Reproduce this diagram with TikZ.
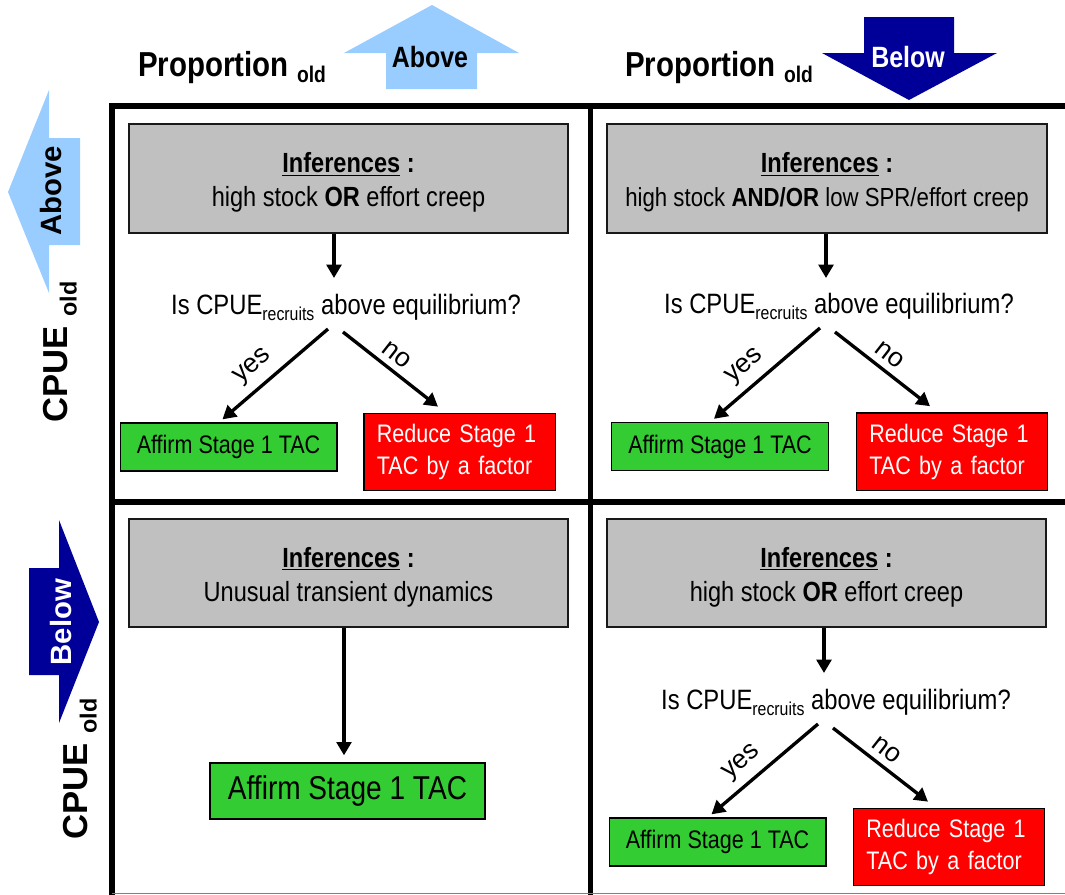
\documentclass[tikz,border=0pt]{standalone}
\usepackage{fontspec}
\setmainfont{Liberation Sans}[FakeStretch=0.85]
\newfontfamily\rotfont{Liberation Sans}
\usetikzlibrary{arrows.meta,calc}
\definecolor{lightblue}{HTML}{99CCFF}
\definecolor{darkblue}{HTML}{000099}
\definecolor{boxgray}{HTML}{C0C0C0}
\definecolor{boxgreen}{HTML}{33CC33}
\definecolor{boxred}{HTML}{FF0000}
\newcommand\myfs[2]{\fontsize{#1}{#2}\selectfont}
\newcommand\quest{Is CPUE\raisebox{-5pt}{\myfs{14}{14}recruits} above equilibrium?}
\newcommand\infhead{\rule{0pt}{21pt}\underline{\textbf{Inferences}} \textbf{:}}
\begin{document}
\begin{tikzpicture}[x=0.75pt,y=-0.75pt,
  gridline/.style={line width=4pt},
  infbox/.style={draw=black!90, line width=1.5pt, fill=boxgray, minimum width=329.25pt,
    minimum height=81.5pt, align=center, font=\myfs{20.8}{25.5}, inner sep=0pt},
  greenbox/.style={draw, line width=1pt, fill=boxgreen, minimum width=162.5pt,
    minimum height=36pt, font=\myfs{19}{24}, inner sep=0pt},
  redbox/.style={draw, line width=1pt, fill=boxred, text=white, text width=124pt,
    inner xsep=9.75pt, inner ysep=0pt, minimum height=58pt, align=left, font=\myfs{19}{24}},
  question/.style={font=\myfs{21}{25}, inner sep=0pt, anchor=base},
  conn/.style={line width=2.5pt, -{Triangle[length=10pt,width=11pt]}},
  lbl/.style={font=\rotfont\myfs{20}{24}, inner sep=0pt},
  header/.style={anchor=base west, font=\myfs{26}{30}\bfseries, inner sep=0pt},
  sidelabel/.style={rotate=90, font=\rotfont\myfs{26}{30}\bfseries, inner sep=0pt},
  arrowtext/.style={font=\myfs{22}{25}\bfseries, inner sep=0pt},
  sidearrowtext/.style={rotate=90, font=\rotfont\myfs{22}{25}\bfseries, inner sep=0pt}]
\useasboundingbox (0,0) rectangle (1065,894);

% ---------- grid ----------
\draw[gridline] (112,103) -- (112,895);
\draw[gridline] (110,106) -- (1067,106);
\draw[gridline] (590.5,106) -- (590.5,895);
\draw[gridline] (112,502) -- (1067,502);
\draw[gray, line width=0.75pt] (112,893.5) -- (1065,893.5);

% ---------- headers ----------
\node[header] (hp1) at (138,76) {Proportion \raisebox{-5pt}{\myfs{17}{17}\bfseries old}};
\node[header] (hp2) at (625,76) {Proportion \raisebox{-5pt}{\myfs{17}{17}\bfseries old}};

\fill[lightblue] (386,89) -- (386,53) -- (344,53) -- (432,5) -- (519,53) -- (477,53) -- (477,89) -- cycle;
\node[arrowtext] (ha1) at (430,57) {Above};
\fill[darkblue] (864,17) -- (954,17) -- (954,53) -- (997,53) -- (909,100) -- (822,53) -- (864,53) -- cycle;
\node[arrowtext, text=white] (ha2) at (908,57) {Below};

\fill[lightblue] (80,138) -- (49,138) -- (49,90) -- (8,192) -- (49,293) -- (49,245) -- (80,245) -- cycle;
\node[sidearrowtext] (va1) at (51,191) {Above};
\fill[darkblue] (29,568) -- (59,568) -- (59,520) -- (99,622) -- (59,723) -- (59,675) -- (29,675) -- cycle;
\node[sidearrowtext, text=white] (va2) at (61,622) {Below};

\node[sidelabel] (cp1) at (60,352) {CPUE \raisebox{-7pt}{\myfs{17.5}{17.5}\bfseries old}};
\node[sidelabel] (cp2) at (80,769) {CPUE \raisebox{-7pt}{\myfs{17.5}{17.5}\bfseries old}};

% ---------- top-left cell ----------
\node[infbox] (inf1) at (348.5,178.5) {\infhead\\high stock \textbf{OR} effort creep};
\node[question] (q1) at (346,314) {\quest};
\node[greenbox] (g1) at (228.5,447) {Affirm Stage 1 TAC};
\node[redbox] (r1) at (459.5,452) {Reduce Stage 1\\TAC by a factor};
\draw[conn] ($(inf1.south)+(-14.5,0)$) -- ($(q1.base)+(-12,-36)$);
\draw[conn] ($(q1.base)+(-18,15)$) -- ($(g1.north)+(-6,-3)$);
\draw[conn] ($(q1.base)+(-3,18)$) -- ($(r1.north)+(-21.5,-6)$);
\node[lbl, rotate=41] (y1) at (253,367) {yes};
\node[lbl, rotate=-38] (n1) at (397,355) {no};

% ---------- top-right cell ----------
\node[infbox, minimum width=330pt] (inf2) at (827,178.5) {\infhead\\{\myfs{19.6}{25.5}high stock \textbf{AND/OR} low SPR/effort creep}};
\node[question] (q2) at (839,313) {\quest};
\node[greenbox] (g2) at (720,446.5) {Affirm Stage 1 TAC};
\node[redbox] (r2) at (952,451.5) {Reduce Stage 1\\TAC by a factor};
\draw[conn] ($(inf2.south)+(-1,0)$) -- ($(q2.base)+(-13,-35)$);
\draw[conn] ($(q2.base)+(-19,15)$) -- ($(g2.north)+(-6,-3)$);
\draw[conn] ($(q2.base)+(-4,19)$) -- ($(r2.north)+(-22,-6)$);
\node[lbl, rotate=41] (y2) at (745,367) {yes};
\node[lbl, rotate=-38] (n2) at (890,355) {no};

% ---------- bottom-left cell ----------
\node[infbox, minimum height=81pt] (inf3) at (348.5,573) {\infhead\\Unusual transient dynamics};
\node[greenbox, minimum width=206.25pt, minimum height=42pt, font=\myfs{24.75}{28}] (g3) at (347.5,791) {Affirm Stage 1 TAC};
\draw[conn] ($(inf3.south)+(-4.5,0)$) -- ($(g3.north)+(-3.5,-7)$);

% ---------- bottom-right cell ----------
\node[infbox, minimum height=81pt] (inf4) at (826.5,573) {\infhead\\high stock \textbf{OR} effort creep};
\node[question] (q4) at (836,709) {\quest};
\node[greenbox] (g4) at (717.5,842) {Affirm Stage 1 TAC};
\node[redbox] (r4) at (949,847) {Reduce Stage 1\\TAC by a factor};
\draw[conn] ($(inf4.south)+(-2.5,0)$) -- ($(q4.base)+(-12,-36)$);
\draw[conn] ($(q4.base)+(-18,15)$) -- ($(g4.north)+(-6,-3)$);
\draw[conn] ($(q4.base)+(-3,19)$) -- ($(r4.north)+(-21,-6)$);
\node[lbl, rotate=41] (y4) at (742,763) {yes};
\node[lbl, rotate=-38] (n4) at (887,750) {no};
\end{tikzpicture}
\end{document}
